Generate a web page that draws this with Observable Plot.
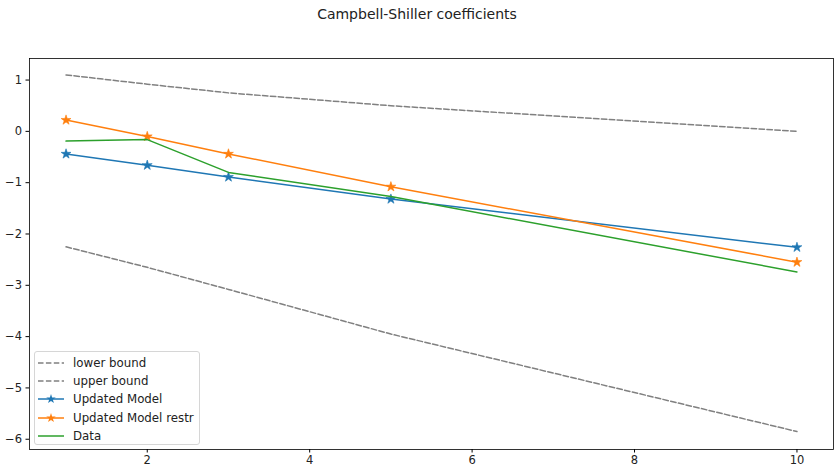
<!DOCTYPE html>
<html>
<head>
<meta charset="utf-8">
<script src="https://cdn.jsdelivr.net/npm/d3@7"></script>
<script src="https://cdn.jsdelivr.net/npm/@observablehq/plot@0.6"></script>
<style>
  body { margin: 0; background: #fff; }
  #wrap { position: relative; width: 834px; height: 471px; font-family: "DejaVu Sans", sans-serif; color: #000; }
  #title { height: 30px; text-align: center; font-size: 14px; line-height: 28px; color: #222; }
  #legend {
    position: absolute; left: 34px; top: 351px; width: 166px; height: 94px;
    border: 1px solid #d6d6d6; border-radius: 3px; background: rgba(255,255,255,0.8);
    font-size: 11.8px; box-sizing: border-box; padding-top: 2px; color: #222;
  }
  .row { display: flex; align-items: center; height: 18.2px; }
  .row svg { margin-left: 2px; margin-right: 8px; }
</style>
</head>
<body>
<div id="wrap">
  <div id="title">Campbell-Shiller coefficients</div>
  <div id="chart"></div>
  <div id="legend"></div>
</div>
<script>
// Horizons (years) at which the coefficients are evaluated
const horizons = [1, 2, 3, 5, 10];
const lowerBound = [-2.25, -2.65, -3.08, -3.95, -5.85];
const upperBound = [1.10, 0.92, 0.75, 0.50, 0.00];
const updatedModel = [-0.44, -0.66, -0.89, -1.32, -2.26];
const updatedModelRestr = [0.22, -0.10, -0.44, -1.08, -2.55];
const dataSeries = [-0.19, -0.16, -0.80, -1.27, -2.74];
const xTicks = [2, 4, 6, 8, 10];
const yTicks = [1, 0, -1, -2, -3, -4, -5, -6];

const series = [
  {name: "lower bound", values: lowerBound, color: "#808080", dash: "5.5,2.4", star: false},
  {name: "upper bound", values: upperBound, color: "#808080", dash: "5.5,2.4", star: false},
  {name: "Updated Model", values: updatedModel, color: "#1f77b4", dash: null, star: true},
  {name: "Updated Model restr", values: updatedModelRestr, color: "#ff7f0e", dash: null, star: true},
  {name: "Data", values: dataSeries, color: "#2ca02c", dash: null, star: false}
];

const toRows = s => horizons.map((h, i) => ({h, v: s.values[i]}));
const fmt = d => (d < 0 ? "\u2212" : "") + Math.abs(d);

const marks = [];
for (const s of series) {
  marks.push(Plot.line(toRows(s), {x: "h", y: "v", stroke: s.color, strokeWidth: 1.5, strokeDasharray: s.dash}));
  if (s.star) marks.push(Plot.dot(toRows(s), {x: "h", y: "v", symbol: "star", r: 3.1, fill: s.color, stroke: s.color, strokeWidth: 0.6}));
}
marks.push(Plot.frame({stroke: "#000", strokeWidth: 0.8}));
marks.push(Plot.axisX(xTicks, {tickSize: 3.5, tickPadding: 3, fontSize: 11.5, stroke: "#000", fill: "#222", label: null, tickFormat: fmt}));
marks.push(Plot.axisY(yTicks, {tickSize: 3.5, tickPadding: 4, fontSize: 11.5, stroke: "#000", fill: "#222", label: null, tickFormat: fmt}));

const chart = Plot.plot({
  width: 834,
  height: 441,
  marginTop: 28,
  marginBottom: 22,
  marginLeft: 29,
  marginRight: 1,
  style: {fontFamily: "DejaVu Sans, sans-serif", fontSize: "11.5px", color: "#000", background: "#fff"},
  x: {domain: [0.55, 10.45]},
  y: {domain: [-6.2, 1.42]},
  marks
});
document.getElementById("chart").appendChild(chart);

// Legend inside the lower-left corner of the axes
const legend = d3.select("#legend");
const starPath = d3.symbol(d3.symbolStar, 28)();
for (const s of series) {
  const row = legend.append("div").attr("class", "row");
  const sw = row.append("svg").attr("width", 28).attr("height", 10);
  sw.append("line").attr("x1", 1).attr("x2", 27).attr("y1", 5).attr("y2", 5)
    .attr("stroke", s.color).attr("stroke-width", 1.5).attr("stroke-dasharray", s.dash);
  if (s.star) sw.append("path").attr("d", starPath).attr("transform", "translate(14,5)").attr("fill", s.color);
  row.append("span").text(s.name);
}
</script>
</body>
</html>
